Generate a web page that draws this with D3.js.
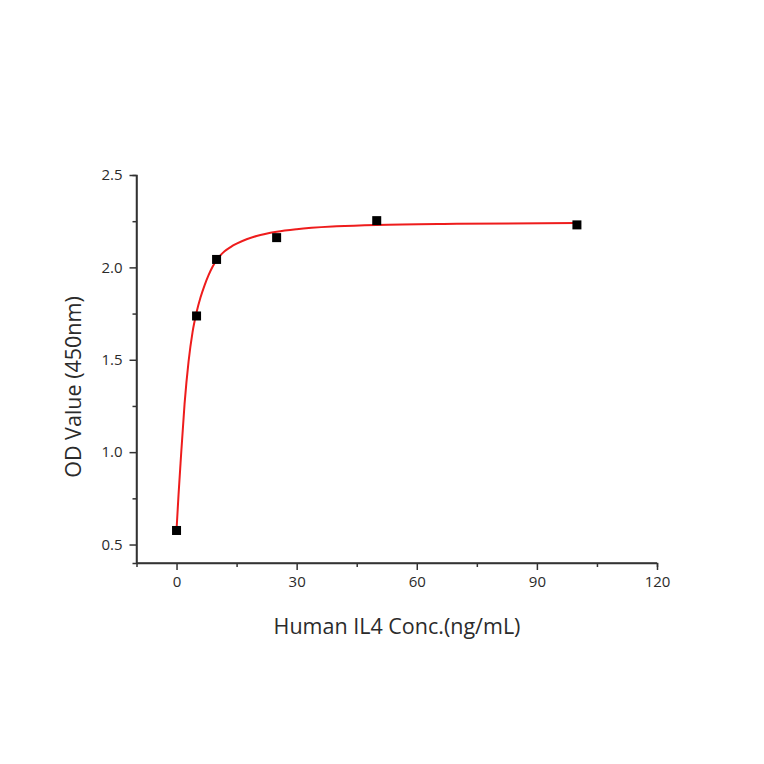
<!DOCTYPE html>
<html>
<head>
<meta charset="utf-8">
<script src="https://cdn.jsdelivr.net/npm/d3@7"></script>
<style>
  body { margin: 0; background: #fff; }
  svg { display: block; }
  text { font-family: 'Open Sans', sans-serif; fill: #2b2b2b; }
</style>
</head>
<body>
<div id="chart"></div>
<script>
// measured points
const concX = [0, 5, 10, 25, 50, 100]
const odY = [0.576, 1.737, 2.043, 2.161, 2.253, 2.23]
// fitted curve
const fitX = [0, 0.5, 1, 2, 3, 4, 5, 6, 7, 8, 9, 10, 11, 12, 13.5, 15, 17.5, 20, 25, 30, 40, 50, 70, 100]
const fitY = [0.58, 0.77, 0.94, 1.26, 1.49, 1.65, 1.757, 1.838, 1.903, 1.958, 2.003, 2.04, 2.066, 2.087, 2.11, 2.128, 2.152, 2.17, 2.193, 2.207, 2.222, 2.23, 2.236, 2.24]
const xTicks = [0, 30, 60, 90, 120]
const yTicks = [0.5, 1.0, 1.5, 2.0, 2.5]

const W = 764, H = 764
const svg = d3.select('#chart').append('svg').attr('width', W).attr('height', H)

const x = d3.scaleLinear().domain([-10, 120]).range([136.5, 657])
const y = d3.scaleLinear().domain([0.4, 2.5]).range([563, 175])

/* axes */
const xAxis = svg.append('g').attr('transform', 'translate(0,' + 563 + ')')
xAxis.call(d3.axisBottom(x).tickValues(xTicks).tickFormat(d3.format('d')).tickSize(7).tickPadding(6))
xAxis.append('g').call(d3.axisBottom(x).tickValues([15, 45, 75, 105]).tickSize(4).tickFormat(''))
xAxis.select('.domain').attr('d', 'M' + x.range()[0] + ',0H' + x.range()[1])

const yAxis = svg.append('g').attr('transform', 'translate(' + 136.5 + ',0)')
yAxis.call(d3.axisLeft(y).tickValues(yTicks).tickFormat(d3.format('.1f')).tickSize(7).tickPadding(7))
yAxis.append('g').call(d3.axisLeft(y).tickValues([0.75, 1.25, 1.75, 2.25]).tickSize(4).tickFormat(''))
yAxis.select('.domain').attr('d', 'M0,' + y.range()[0] + 'V' + y.range()[1])

svg.selectAll('.domain, .tick line').attr('stroke', '#333').attr('stroke-width', 1.5)
svg.selectAll('.tick text').style('font-size', '15px').attr('fill', '#2b2b2b')

/* titles */
svg.append('text')
  .attr('x', 397).attr('y', 634)
  .attr('text-anchor', 'middle')
  .style('font-size', '21.5px')
  .text('Human IL4 Conc.(ng/mL)')

svg.append('text')
  .attr('transform', 'translate(81,' + 387 + ') rotate(-90)')
  .attr('text-anchor', 'middle')
  .style('font-size', '21.5px')
  .text('OD Value (450nm)')

/* fit line */
const line = d3.line()
  .x((d, i) => x(fitX[i]))
  .y(d => y(d))
  .curve(d3.curveMonotoneX)

svg.append('path')
  .datum(fitY)
  .attr('d', line)
  .attr('fill', 'none')
  .attr('stroke', '#ee1c1c')
  .attr('stroke-width', 2)

/* markers */
svg.selectAll('.pt')
  .data(concX)
  .enter()
  .append('rect')
  .attr('class', 'pt')
  .attr('x', d => x(d) - 4.5)
  .attr('y', (d, i) => y(odY[i]) - 4.5)
  .attr('width', 9)
  .attr('height', 9)
  .attr('fill', '#000')
</script>
</body>
</html>
